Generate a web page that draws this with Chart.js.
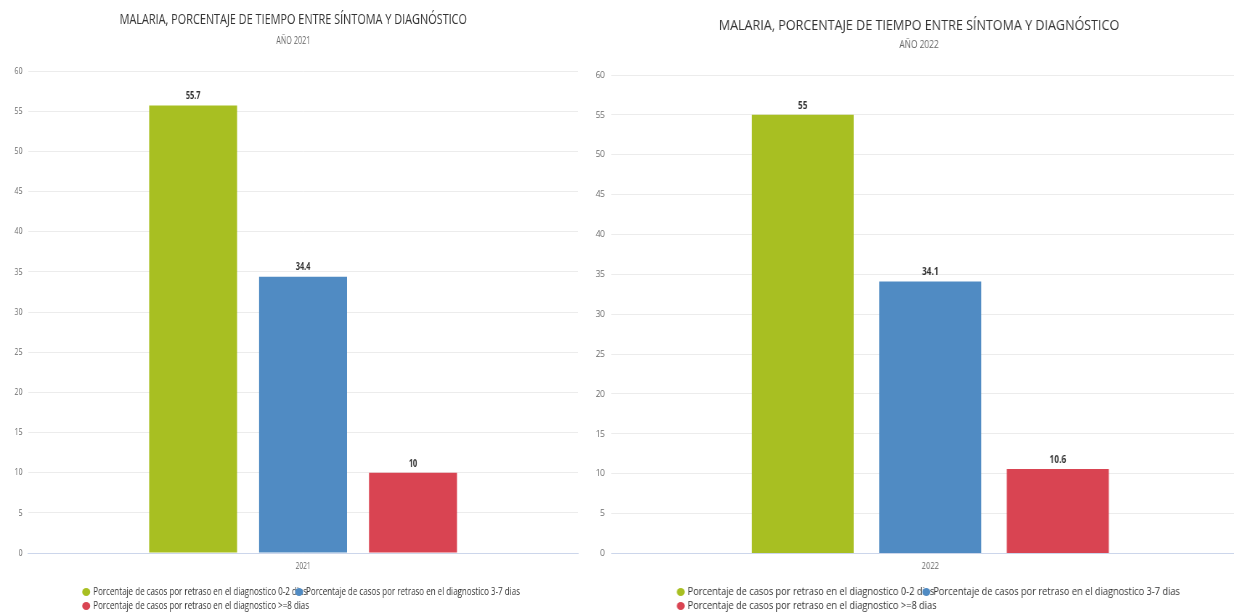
<!doctype html>
<html>

<head>
  <title>Malaria, porcentaje de tiempo entre síntoma y diagnóstico</title>
  <script src="https://cdn.jsdelivr.net/npm/chart.js@4.4.1/dist/chart.umd.min.js"></script>
  <style>
    body {
      margin: 0;
      background: #fff;
      width: 1234px;
      height: 612px;
      overflow: hidden;
      position: relative;
    }
    canvas {
      position: absolute;
      top: 0;
      transform-origin: 0 0;
    }
    /* the source picture is squeezed sideways, so the canvases are too */
    #chart2021 {
      left: 0;
      transform: scaleX(0.726);
    }
    #chart2022 {
      left: 587px;
      transform: scaleX(0.837);
    }
  </style>
</head>

<body>
  <canvas id="chart2021" width="813" height="612"></canvas>
  <canvas id="chart2022" width="803" height="612"></canvas>

  <script>
    var chartTitle = 'MALARIA, PORCENTAJE DE TIEMPO ENTRE SÍNTOMA Y DIAGNÓSTICO';
    var seriesNames = [
      'Porcentaje de casos por retraso en el diagnostico 0-2 dias',
      'Porcentaje de casos por retraso en el diagnostico 3-7 dias',
      'Porcentaje de casos por retraso en el diagnostico >=8 dias'
    ];
    var seriesColors = ['#a8bf22', '#508bc3', '#d94452'];

    var years2021 = ['2021'];
    var values2021 = [55.7, 34.4, 10];

    var years2022 = ['2022'];
    var values2022 = [55, 34.1, 10.6];

    var yMin = 0;
    var yMax = 60;
    var yStep = 5;

    Chart.defaults.font.family = '"Open Sans", sans-serif';

    // value printed above each bar
    var valueLabels = {
      id: 'valueLabels',
      afterDatasetsDraw: function(chart) {
        var ctx = chart.ctx;
        ctx.save();
        ctx.font = 'bold 10px "Open Sans", sans-serif';
        ctx.fillStyle = '#333';
        ctx.textAlign = 'center';
        ctx.textBaseline = 'middle';
        chart.data.datasets.forEach(function(ds, i) {
          chart.getDatasetMeta(i).data.forEach(function(bar, j) {
            ctx.fillText(ds.data[j], bar.x, bar.y - 9);
          });
        });
        ctx.restore();
      }
    };

    // two rows, left aligned, the second item running into the first like the original
    var rowLegend = {
      id: 'rowLegend',
      afterDraw: function(chart, args, opts) {
        var ctx = chart.ctx;
        var area = chart.chartArea;
        var sx = opts.scaleX || 1;
        var names = chart.data.datasets.map(function(d) { return d.label; });
        var textGap = 7 / sx;
        var overlap = 8 / sx;
        var r = 4;
        ctx.save();
        ctx.font = '11px "Open Sans", sans-serif';
        ctx.textBaseline = 'middle';
        var w0 = ctx.measureText(names[0]).width;
        var w1 = ctx.measureText(names[1]).width;
        var rowWidth = textGap + w0 - overlap + textGap + w1;
        var x0 = (area.left + area.right) / 2 - rowWidth / 2;
        var items = [
          {i: 0, x: x0, y: chart.height - 20},
          {i: 1, x: x0 + textGap + w0 - overlap, y: chart.height - 20},
          {i: 2, x: x0, y: chart.height - 6}
        ];
        items.forEach(function(it) {
          ctx.fillStyle = chart.data.datasets[it.i].backgroundColor;
          ctx.beginPath();
          ctx.ellipse(it.x, it.y, r / sx, r, 0, 0, Math.PI * 2);
          ctx.fill();
          ctx.fillStyle = '#333';
          ctx.fillText(names[it.i], it.x + textGap, it.y);
        });
        ctx.restore();
      }
    };

    function makeConfig(years, values, year, sx, pad) {
      return {
        type: 'bar',
        data: {
          labels: years,
          datasets: seriesNames.map(function(name, i) {
            return {
              label: name,
              data: [values[i]],
              backgroundColor: seriesColors[i],
              categoryPercentage: 0.6,
              barPercentage: 0.8
            };
          })
        },
        options: {
          responsive: false,
          animation: false,
          layout: {
            padding: {left: pad.left, right: pad.right, top: 0, bottom: pad.bottom}
          },
          scales: {
            x: {
              grid: {display: false, drawTicks: false},
              border: {color: '#ccd6eb'},
              ticks: {color: '#666', font: {size: 9}, padding: 7.6}
            },
            y: {
              min: yMin,
              max: yMax,
              grid: {
                drawTicks: false,
                color: function(c) { return c.tick && c.tick.value === 0 ? '#ccd6eb' : '#ececec'; }
              },
              border: {display: false},
              ticks: {stepSize: yStep, color: '#666', font: {size: 9.5}, padding: 8}
            }
          },
          plugins: {
            legend: {display: false},
            tooltip: {enabled: false},
            title: {
              display: true,
              text: chartTitle,
              color: '#333',
              font: {size: 15, weight: 'normal'},
              padding: {top: pad.titleTop, bottom: pad.titleBottom}
            },
            subtitle: {
              display: true,
              text: 'AÑO ' + year,
              color: '#666',
              font: {size: 10},
              padding: {top: 0, bottom: pad.subBottom}
            },
            rowLegend: {scaleX: sx}
          }
        },
        plugins: [valueLabels, rowLegend]
      };
    }

    window.onload = function() {
      new Chart(document.getElementById('chart2021'),
        makeConfig(years2021, values2021, '2021', 0.726,
          {left: 12, right: 17, bottom: 33, titleTop: 11, titleBottom: 6, subBottom: 24}));
      new Chart(document.getElementById('chart2022'),
        makeConfig(years2022, values2022, '2022', 0.837,
          {left: 2.4, right: 12, bottom: 32.6, titleTop: 17, titleBottom: 4, subBottom: 24}));
    };
  </script>
</body>

</html>
